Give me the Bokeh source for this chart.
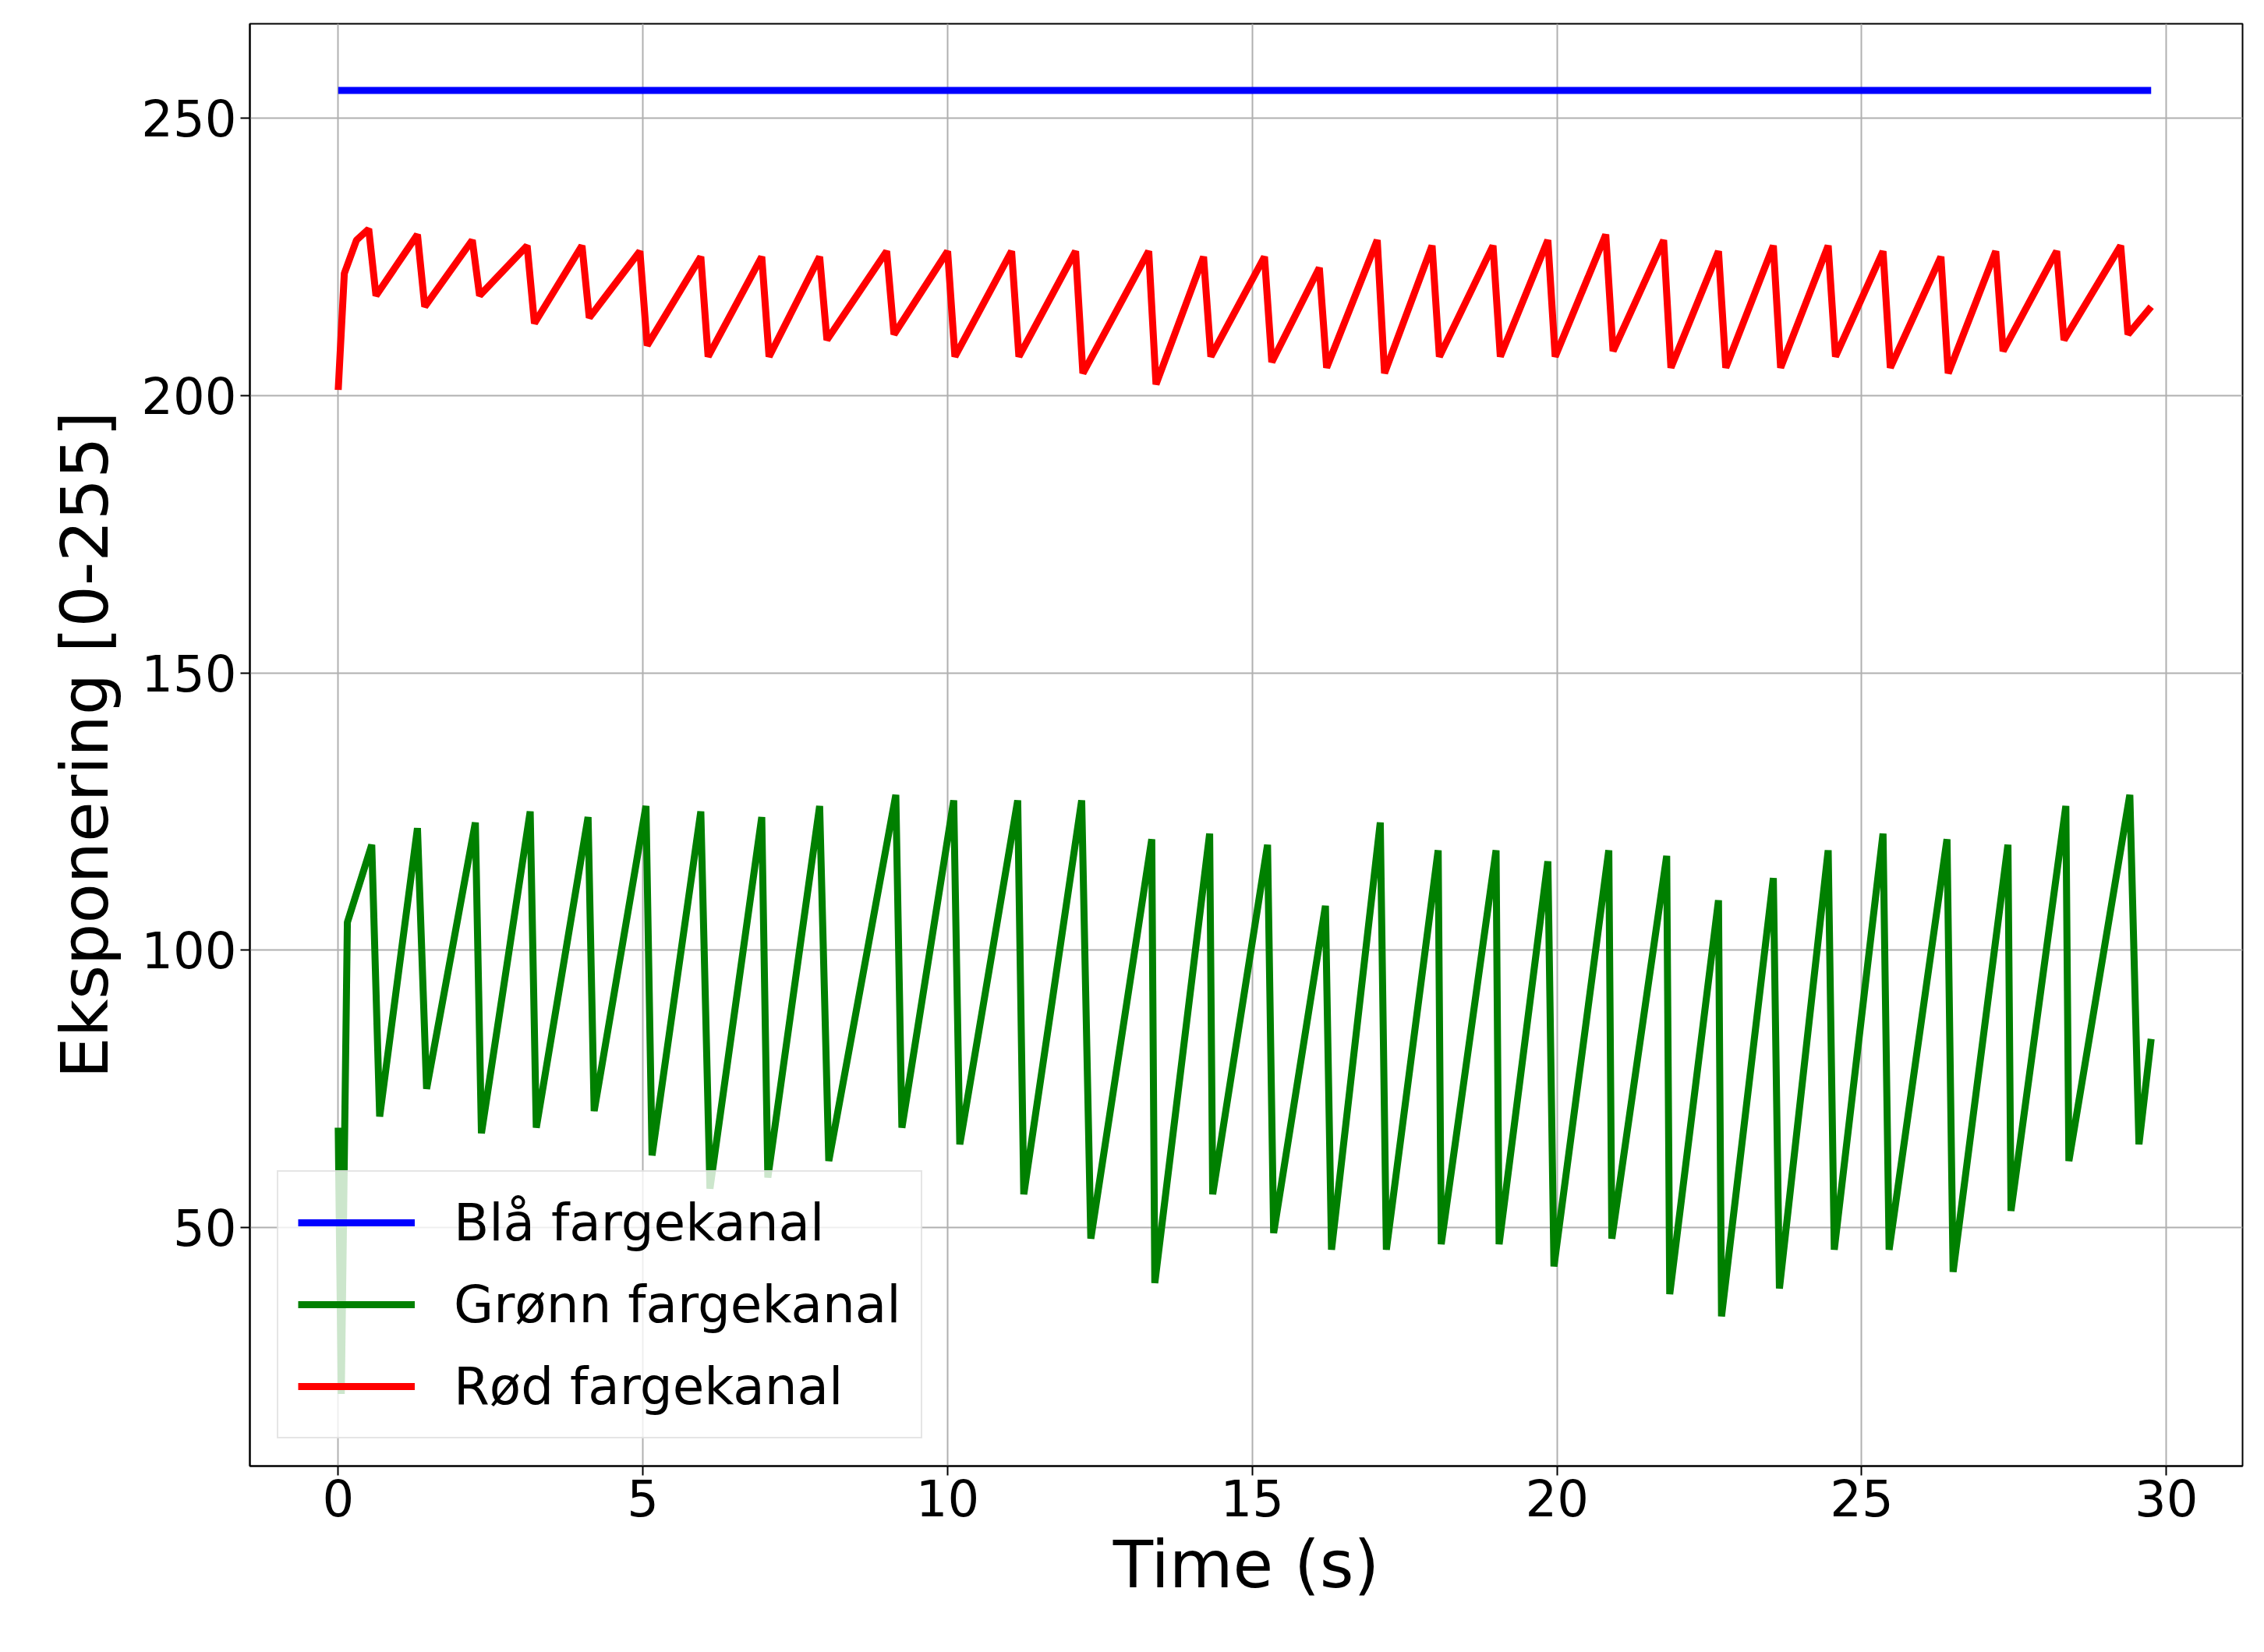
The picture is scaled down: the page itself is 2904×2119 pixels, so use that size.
from bokeh.plotting import figure
from bokeh.models import Range1d, FixedTicker
from bokeh.embed import file_html
from bokeh.resources import INLINE

# beat-by-beat values (seconds, exposure)
green_peak_t = [0.55, 1.3, 2.25, 3.15, 4.1, 5.05, 5.95, 6.95, 7.9, 9.15, 10.1, 11.15, 12.2, 13.35, 14.3,
                15.25, 16.2, 17.1, 18.05, 19.0, 19.85, 20.85, 21.8, 22.65, 23.55, 24.45, 25.35, 26.4,
                27.4, 28.35, 29.4]
green_peak_v = [119, 122, 123, 125, 124, 126, 125, 124, 126, 128, 127, 127, 127, 120, 121,
                119, 108, 123, 118, 118, 116, 118, 117, 109, 113, 118, 121, 120, 119, 126, 128]
green_trough_t = [0.68, 1.45, 2.35, 3.25, 4.2, 5.15, 6.1, 7.05, 8.05, 9.25, 10.2, 11.25, 12.35, 13.4, 14.35,
                  15.35, 16.3, 17.2, 18.1, 19.05, 19.95, 20.9, 21.85, 22.7, 23.65, 24.55, 25.45, 26.5,
                  27.45, 28.4, 29.55]
green_trough_v = [70, 75, 67, 68, 71, 63, 57, 59, 62, 68, 65, 56, 48, 40, 56,
                  49, 46, 46, 47, 47, 43, 48, 38, 34, 39, 46, 46, 42, 53, 62, 65]
green_start = [(0.0, 68), (0.05, 20), (0.15, 105)]
green_end = (29.75, 84)

red_peak_t = [0.5, 1.3, 2.2, 3.1, 4.0, 4.95, 5.95, 6.95, 7.9, 9.0, 10.0, 11.05, 12.1, 13.3, 14.2,
              15.2, 16.1, 17.05, 17.95, 18.95, 19.85, 20.8, 21.75, 22.65, 23.55, 24.45, 25.35, 26.3,
              27.2, 28.2, 29.25]
red_peak_v = [230, 229, 228, 227, 227, 226, 225, 225, 225, 226, 226, 226, 226, 226, 225,
              225, 223, 228, 227, 227, 228, 229, 228, 226, 227, 227, 226, 225, 226, 226, 227]
red_trough_v = [218, 216, 218, 213, 214, 209, 207, 207, 210, 211, 207, 207, 204, 202, 207,
                206, 205, 204, 207, 207, 207, 208, 205, 205, 205, 207, 205, 204, 208, 210, 211]
red_start = [(0.0, 201), (0.1, 222), (0.3, 228)]
red_end = (29.75, 216)

blue_t = [0.0, 29.75]
blue_v = [255, 255]

gx = [t for t, _ in green_start]
gy = [v for _, v in green_start]
for pt, pv, tt, tv in zip(green_peak_t, green_peak_v, green_trough_t, green_trough_v):
    gx += [pt, tt]
    gy += [pv, tv]
gx.append(green_end[0])
gy.append(green_end[1])

rx = [t for t, _ in red_start]
ry = [v for _, v in red_start]
for pt, pv, tv in zip(red_peak_t, red_peak_v, red_trough_v):
    rx += [pt, pt + 0.12]
    ry += [pv, tv]
rx.append(red_end[0])
ry.append(red_end[1])

p = figure(width=2886, height=2100, output_backend="svg", toolbar_location=None,
           x_range=Range1d(-1.45, 31.25), y_range=Range1d(7, 267),
           min_border_left=320, min_border_right=10, min_border_top=30, min_border_bottom=220)

p.line(blue_t, blue_v, color="blue", line_width=9, legend_label="Blå fargekanal")
p.line(gx, gy, color="green", line_width=9, legend_label="Grønn fargekanal")
p.line(rx, ry, color="red", line_width=9, legend_label="Rød fargekanal")

p.xaxis.ticker = FixedTicker(ticks=[0, 5, 10, 15, 20, 25, 30])
p.yaxis.ticker = FixedTicker(ticks=[50, 100, 150, 200, 250])
p.xaxis.axis_label = "Time (s)"
p.yaxis.axis_label = "Eksponering [0-255]"
for ax in (p.xaxis, p.yaxis):
    ax.axis_label_text_font = "DejaVu Sans"
    ax.axis_label_text_font_size = "84px"
    ax.axis_label_text_font_style = "normal"
    ax.axis_label_text_color = "black"
    ax.major_label_text_font = "DejaVu Sans"
    ax.major_label_text_font_size = "64px"
    ax.major_label_text_color = "black"
    ax.axis_line_color = "black"
    ax.axis_line_width = 2
    ax.major_tick_line_width = 2
    ax.major_tick_out = 12
    ax.major_tick_in = 0
    ax.minor_tick_line_color = None
p.xaxis.axis_label_standoff = 10
p.yaxis.axis_label_standoff = 20
p.outline_line_color = "black"
p.outline_line_width = 2
p.grid.grid_line_color = "#b0b0b0"
p.grid.grid_line_width = 2

p.legend.location = "bottom_left"
p.legend.label_text_font = "DejaVu Sans"
p.legend.label_text_font_size = "66px"
p.legend.label_text_color = "black"
p.legend.glyph_width = 150
p.legend.glyph_height = 60
p.legend.label_height = 80
p.legend.label_standoff = 50
p.legend.spacing = 25
p.legend.padding = 25
p.legend.margin = 35
p.legend.border_line_color = "#cccccc"
p.legend.border_line_width = 2
p.legend.background_fill_alpha = 0.8

open("out.html", "w").write(file_html(p, INLINE))
